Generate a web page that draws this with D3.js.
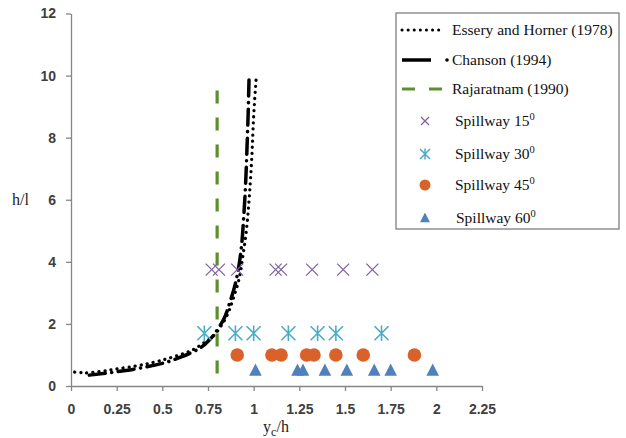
<!DOCTYPE html>
<html><head><meta charset="utf-8">
<script src="https://cdn.jsdelivr.net/npm/d3@7"></script>
<style>body{margin:0;background:#fff;} svg{display:block;}</style>
</head><body>
<svg id="c" width="626" height="438"></svg>
<script>
// ---- data ----
const xTicks = [0, 0.25, 0.5, 0.75, 1, 1.25, 1.5, 1.75, 2, 2.25];
const xTickLabels = ["0","0.25","0.5","0.75","1","1.25","1.5","1.75","2","2.25"];
const yTicks = [0, 2, 4, 6, 8, 10, 12];

const esseryX = [0.02,0.08,0.15,0.25,0.35,0.45,0.55,0.65,0.72,0.78,0.82,0.86,0.89,0.92,0.94,0.96,0.975,0.99,1.0,1.015];
const esseryY = [0.45,0.41,0.46,0.55,0.64,0.76,0.92,1.12,1.36,1.62,1.92,2.35,2.85,3.45,4.15,5.0,6.0,7.4,8.7,10.0];

const chansonX = [0.1,0.2,0.3,0.4,0.5,0.6,0.7,0.76,0.8,0.84,0.87,0.9,0.92,0.935,0.945,0.955,0.963,0.97,0.975];
const chansonY = [0.35,0.42,0.5,0.6,0.73,0.93,1.2,1.5,1.8,2.2,2.7,3.3,3.9,4.6,5.4,6.4,7.6,8.8,10.0];

const rajaX = [0.8, 0.8];
const rajaY = [0.4, 9.7];

const sp15X = [0.77,0.81,0.91,1.12,1.15,1.32,1.49,1.65];
const sp15Y = [3.75,3.75,3.75,3.75,3.75,3.75,3.75,3.75];
const sp30X = [0.73,0.90,1.00,1.19,1.35,1.45,1.70];
const sp30Y = [1.7,1.7,1.7,1.7,1.7,1.7,1.7];
const sp45X = [0.91,1.10,1.15,1.29,1.33,1.45,1.60,1.88];
const sp45Y = [1.0,1.0,1.0,1.0,1.0,1.0,1.0,1.0];
const sp60X = [1.01,1.24,1.27,1.39,1.51,1.66,1.75,1.98];
const sp60Y = [0.5,0.5,0.5,0.5,0.5,0.5,0.5,0.5];

// ---- layout ----
const svg = d3.select("#c");
const x = d3.scaleLinear().domain([0, 2.25]).range([71, 482]);
const y = d3.scaleLinear().domain([0, 12]).range([386, 13.5]);
const axisColor = "#868686";
const tickFont = "'Liberation Sans', Arial, sans-serif";
const serif = "'Liberation Serif', 'Times New Roman', serif";

// axes
const xAxis = svg.append("g").attr("transform", `translate(0,${y(0)})`)
  .call(d3.axisBottom(x).tickValues(xTicks).tickFormat((d,i)=>xTickLabels[i]).tickSize(5).tickSizeOuter(0));
const yAxis = svg.append("g").attr("transform", `translate(${x(0)},0)`)
  .call(d3.axisLeft(y).tickValues(yTicks).tickSize(5).tickSizeOuter(0));
[xAxis, yAxis].forEach(g => {
  g.selectAll("path,line").attr("stroke", axisColor).attr("stroke-width", 1.3);
  g.selectAll("text").attr("fill", "#404040").style("font-family", tickFont).style("font-size", "14px").style("font-weight", "bold");
});
xAxis.selectAll("text").attr("dy", "1.4em");
yAxis.selectAll("text").attr("x", -15);

// axis titles
svg.append("text").attr("x", 12).attr("y", 205).text("h/l")
  .style("font-family", serif).style("font-size", "16px").attr("fill", "#222");
const xt = svg.append("text").attr("x", 276).attr("y", 432).attr("text-anchor", "middle")
  .style("font-family", serif).style("font-size", "16px").attr("fill", "#222");
xt.append("tspan").text("y");
xt.append("tspan").text("c").attr("dy", 4).style("font-size", "12px");
xt.append("tspan").text("/h").attr("dy", -4);

// lines
const line = d3.line().x(d => x(d[0])).y(d => y(d[1])).curve(d3.curveMonotoneY);
const essery = esseryX.map((v,i)=>[v, esseryY[i]]);
const chanson = chansonX.map((v,i)=>[v, chansonY[i]]);
const raja = rajaX.map((v,i)=>[v, rajaY[i]]);

svg.append("path").datum(raja).attr("d", d3.line().x(d=>x(d[0])).y(d=>y(d[1])))
  .attr("fill","none").attr("stroke","#5f8f2a").attr("stroke-width",3.2).attr("stroke-dasharray","13,14");
svg.append("path").datum(chanson).attr("d", line)
  .attr("fill","none").attr("stroke","#000").attr("stroke-width",3.5)
  .attr("stroke-linecap","round").attr("stroke-dasharray","16,6.5,0.1,6.5");
svg.append("path").datum(essery).attr("d", line)
  .attr("fill","none").attr("stroke","#000").attr("stroke-width",3.2)
  .attr("stroke-linecap","round").attr("stroke-dasharray","0.1,6");

// markers
const purple = "#8064a2", teal = "#4bacc6", orange = "#d9622b", blue = "#4f81bd";
function drawX(g, cx, cy, s, col, w) {
  g.append("path").attr("d", `M${cx-s},${cy-s}L${cx+s},${cy+s}M${cx-s},${cy+s}L${cx+s},${cy-s}`)
    .attr("stroke", col).attr("stroke-width", w).attr("fill","none");
}
function drawStar(g, cx, cy, s, col, w) {
  g.append("path").attr("d", `M${cx-s},${cy-s}L${cx+s},${cy+s}M${cx-s},${cy+s}L${cx+s},${cy-s}M${cx},${cy-s*1.1}L${cx},${cy+s*1.1}`)
    .attr("stroke", col).attr("stroke-width", w).attr("fill","none");
}
function drawTri(g, cx, cy, s, col) {
  g.append("path").attr("d", `M${cx},${cy-s}L${cx+s*0.9},${cy+s*0.75}L${cx-s*0.9},${cy+s*0.75}Z`).attr("fill", col);
}
const mk = svg.append("g");
sp45X.forEach((v,i)=> mk.append("circle").attr("cx", x(v)).attr("cy", y(sp45Y[i])).attr("r", 6.8).attr("fill", orange));
sp60X.forEach((v,i)=> drawTri(mk, x(v), y(sp60Y[i]), 7, blue));
sp15X.forEach((v,i)=> drawX(mk, x(v), y(sp15Y[i]), 6, purple, 1.3));
sp30X.forEach((v,i)=> drawStar(mk, x(v), y(sp30Y[i]), 7, teal, 1.6));

// legend
const lg = svg.append("g");
lg.append("rect").attr("x", 396).attr("y", 13).attr("width", 223).attr("height", 216)
  .attr("fill","#fff").attr("stroke","#7f7f7f").attr("stroke-width",1.3);
const ltxt = (tx, ty, t, sup) => {
  const e = lg.append("text").attr("x", tx).attr("y", ty).style("font-family", serif).style("font-size","15.5px").attr("fill","#111").text(t);
  if (sup) e.append("tspan").text(sup).attr("dy", -6).style("font-size","10.5px");
};
lg.append("line").attr("x1",402).attr("x2",442).attr("y1",30).attr("y2",30).attr("stroke","#000").attr("stroke-width",3)
  .attr("stroke-linecap","round").attr("stroke-dasharray","0.1,6");
ltxt(452, 35, "Essery and Horner (1978)");
lg.append("line").attr("x1",402).attr("x2",431).attr("y1",60).attr("y2",60).attr("stroke","#000").attr("stroke-width",3.5);
lg.append("circle").attr("cx",447).attr("cy",60).attr("r",1.8).attr("fill","#000");
ltxt(452, 65, "Chanson (1994)");
lg.append("line").attr("x1",402).attr("x2",443).attr("y1",89).attr("y2",89).attr("stroke","#5f8f2a").attr("stroke-width",3.2).attr("stroke-dasharray","13,14");
ltxt(452, 94, "Rajaratnam (1990)");
drawX(lg, 425, 121, 4, purple, 1.3);
ltxt(455, 126, "Spillway 15", "0");
drawStar(lg, 425, 154, 5, teal, 1.5);
ltxt(455, 159, "Spillway 30", "0");
lg.append("circle").attr("cx",425).attr("cy",185).attr("r",5.5).attr("fill",orange);
ltxt(455, 190, "Spillway 45", "0");
drawTri(lg, 425, 218, 5.5, blue);
ltxt(456, 223, "Spillway 60", "0");
</script>
</body></html>
